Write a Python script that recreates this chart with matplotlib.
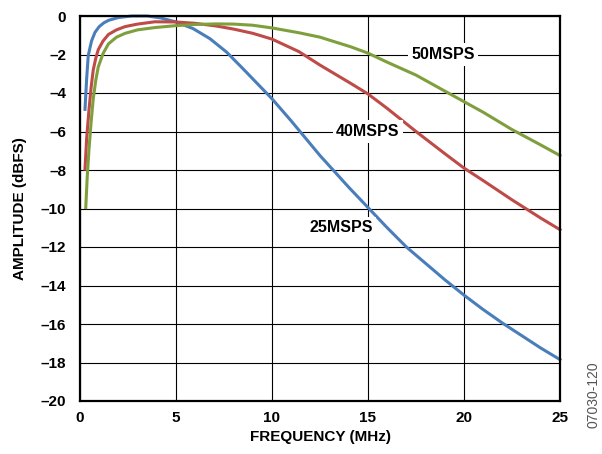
import matplotlib
matplotlib.use("Agg")
import matplotlib.pyplot as plt

plt.rcParams['font.family'] = ['Liberation Sans', 'DejaVu Sans']

# 25MSPS (blue)
x25 = [0.26, 0.35, 0.43, 0.6, 0.78, 1.0, 1.25, 1.5, 2.0, 2.7, 3.5, 4.2, 5.0, 5.9, 6.77,
       7.64, 8.5, 9.37, 10, 11, 12.5, 14, 15, 16, 17, 18, 19, 20, 21, 22, 23, 24, 25]
y25 = [-4.85, -3.2, -2.05, -1.3, -0.85, -0.55, -0.35, -0.22, -0.08, 0.0, 0.0, -0.1, -0.31,
       -0.66, -1.18, -1.88, -2.75, -3.65, -4.3, -5.45, -7.25, -8.9, -9.95, -11.0, -12.0,
       -12.85, -13.7, -14.5, -15.25, -15.95, -16.6, -17.25, -17.85]

# 40MSPS (red)
x40 = [0.26, 0.35, 0.47, 0.58, 0.69, 0.82, 0.95, 1.2, 1.48, 1.9, 2.35, 3.0, 3.9, 5.0, 6.0,
       7.1, 8.0, 9.0, 10, 11.4, 12.5, 14.1, 15, 16, 17.5, 19, 20, 21, 22.5, 24, 25]
y40 = [-7.95, -6.3, -4.85, -3.7, -2.8, -2.2, -1.75, -1.3, -0.96, -0.72, -0.55, -0.42, -0.3,
       -0.31, -0.38, -0.52, -0.68, -0.9, -1.2, -1.85, -2.55, -3.5, -4.05, -4.8, -6.0, -7.15,
       -7.9, -8.55, -9.55, -10.5, -11.1]

# 50MSPS (green)
x50 = [0.3, 0.38, 0.47, 0.58, 0.69, 0.82, 0.95, 1.2, 1.48, 1.9, 2.35, 3.0, 3.9, 5.0, 6.0,
       7.1, 8.0, 9.0, 10, 11.4, 12.5, 14.1, 15, 16, 17.5, 19, 20, 21, 22.5, 24, 25]
y50 = [-9.95, -8.3, -6.9, -5.5, -4.3, -3.35, -2.65, -1.95, -1.45, -1.1, -0.9, -0.72, -0.6,
       -0.5, -0.44, -0.41, -0.42, -0.48, -0.62, -0.87, -1.1, -1.6, -1.93, -2.4, -3.07,
       -3.9, -4.45, -5.0, -5.9, -6.7, -7.25]

xticks = [0, 5, 10, 15, 20, 25]
yticks = [0, -2, -4, -6, -8, -10, -12, -14, -16, -18, -20]

labels = [("50MSPS", 18.9, -2.0), ("40MSPS", 15.0, -6.0), ("25MSPS", 13.6, -11.0)]

fig = plt.figure(figsize=(6.02, 4.54), dpi=100)
ax = fig.add_axes([80/602, 1 - 401/454, 480/602, 385/454])

ax.set_xlim(0, 25)
ax.set_ylim(-20, 0)
ax.set_xticks(xticks)
ax.set_yticks(yticks)
ax.set_xticklabels([str(t) for t in xticks])
ax.set_yticklabels(["0" if t == 0 else "\u2013" + str(-t) for t in yticks])
ax.tick_params(length=0, labelsize=11)
ax.tick_params(axis='y', pad=10)
ax.tick_params(axis='x', pad=7)
for lab in ax.get_xticklabels() + ax.get_yticklabels():
    lab.set_fontweight('bold')

ax.grid(True, color='black', linewidth=0.8)
ax.set_axisbelow(True)
for s in ax.spines.values():
    s.set_linewidth(1.6)
    s.set_zorder(5)

lw = 2.2
ax.plot(x25, y25, color='#4a7ebb', lw=lw, clip_on=False, zorder=3)
ax.plot(x40, y40, color='#be4b48', lw=lw, clip_on=False, zorder=3)
ax.plot(x50, y50, color='#7f9f3c', lw=lw, clip_on=False, zorder=3)

for txt, xx, yy in labels:
    ax.text(xx, yy, txt, ha='center', va='center', fontsize=11.5, fontweight='bold',
            zorder=4, bbox=dict(facecolor='white', edgecolor='none', pad=2.5))

ax.set_xlabel("FREQUENCY (MHz)", fontsize=11, fontweight='bold', labelpad=4)
ax.set_ylabel("AMPLITUDE (dBFS)", fontsize=11, fontweight='bold', labelpad=10)

fig.text(593/602, 1 - 395/454, "07030-120", rotation=90, ha='center', va='center',
         fontsize=10, color='#555555')

fig.savefig("out.png", dpi=100)
